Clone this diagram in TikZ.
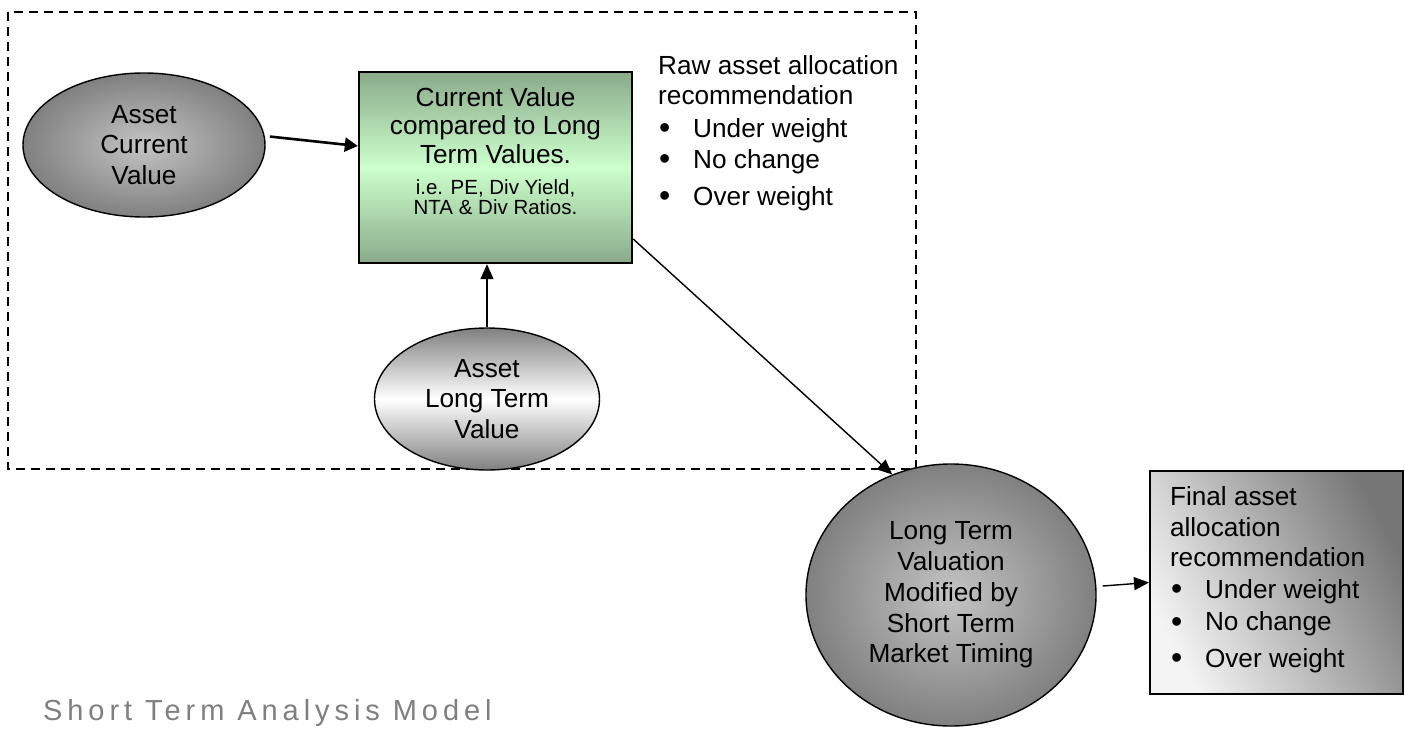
\documentclass[tikz,border=0pt]{standalone}
\usepackage{fontspec}
\setmainfont{Liberation Sans}
\newfontfamily\titlefont[LetterSpace=17]{Liberation Sans}
\usetikzlibrary{shapes.geometric,arrows.meta}
\definecolor{grayedge}{HTML}{808080}
\definecolor{graycenter}{HTML}{C4C4C4}
\definecolor{greendark}{HTML}{8AAA8A}
\definecolor{greenlight}{HTML}{CCFFCC}
\definecolor{titlegray}{HTML}{7F7F7F}
\definecolor{boxlight}{HTML}{F4F4F4}
\definecolor{boxdark}{HTML}{777777}
\newcommand{\bulitem}[1]{\par\hspace*{1pt}\makebox[34pt][l]{{\fontsize{32}{28}\selectfont\raisebox{-1.5pt}{•}}}#1}
\begin{document}
\begin{tikzpicture}[x=1pt,y=-1pt,
  txtmain/.style={font=\fontsize{26.2}{30.5}\selectfont},
  ell/.style={ellipse,draw=black,line width=1.4pt,inner sep=0pt,align=center,txtmain},
  radialgray/.style={inner color=graycenter,outer color=grayedge},
  arr/.style={line width=1.4pt,-{Triangle[length=15pt,width=13pt]}},
  thickarr/.style={line width=2.6pt,-{Triangle[length=13pt,width=14pt]}},
  frame/.style={line width=1.6pt,dash pattern=on 9pt off 6pt},
  ]
\useasboundingbox (0,0) rectangle (1405,728);

% dashed frame
\draw[frame] (8,12) rectangle (916,469);

% Asset Current Value
\node[ell,radialgray,minimum width=242pt,minimum height=144pt] (acv) at (144,145) {Asset\\Current\\Value};

% comparison box
\node[draw=black,line width=2.4pt,inner sep=0pt,top color=greendark,bottom color=greendark,middle color=greenlight,
  minimum width=273pt,minimum height=191pt] (cmp) at (495.5,167.5)
  {\parbox[c][191pt][t]{273pt}{\vspace*{15.5pt}\centering
   {\fontsize{26.2}{28.5}\selectfont Current Value\\compared to Long\\Term Values.\par}
   \vspace{10.5pt}
   {\fontsize{20.5}{20.5}\selectfont i.e. PE, Div Yield,\\NTA \& Div Ratios.\par}}};

% Raw recommendation text
\node[anchor=base west,inner sep=0pt] (raw) at (658,74)
  {\parbox[t]{255pt}{\fontsize{26.2}{30}\selectfont\raggedright
   Raw asset allocation\\recommendation\par\vspace{3pt}
   \bulitem{Under weight}\par\vspace{1pt}
   \bulitem{No change}\par\vspace{7pt}
   \bulitem{Over weight}}};

% Asset Long Term Value
\node[ell,top color=grayedge,bottom color=grayedge,middle color=white,minimum width=225pt,minimum height=142pt] (alt) at (487,399) {Asset\\Long Term\\Value};

% Long term valuation circle
\node[ell,radialgray,minimum width=290pt,minimum height=262pt,font=\fontsize{26.2}{30.8}\selectfont] (lt) at (951,595)
  {Long Term\\Valuation\\Modified by\\Short Term\\Market Timing};

% Final box
\node[draw=black,line width=2pt,inner sep=0pt,bottom color=boxlight,top color=boxdark,shading angle=-62,
  minimum width=253pt,minimum height=223pt] (fin) at (1276.5,582.5)
  {\parbox[c][223pt][t]{253pt}{\vspace*{16pt}\fontsize{26.2}{30.5}\selectfont\raggedright\leftskip=20pt
   Final asset\\allocation\\recommendation\par\vspace{1pt}
   \bulitem{Under weight}\par\vspace{2pt}
   \bulitem{No change}\par\vspace{6pt}
   \bulitem{Over weight}}};

% connectors
\draw[thickarr] ([xshift=5pt]acv.4) -- ([yshift=21.5pt]cmp.west);
\draw[arr] (alt.north) -- (alt.north |- cmp.south);
\draw[arr] ([yshift=-71.5pt]cmp.east) -- (lt.116);
\draw[arr] ([xshift=6pt,yshift=9pt]lt.east) -- (fin.west);

% title
\node[anchor=base west,inner sep=0pt,text=titlegray,font=\titlefont\fontsize{29}{29}\selectfont] (title) at (43,720) {Short Term Analysis Model};
\end{tikzpicture}
\end{document}
